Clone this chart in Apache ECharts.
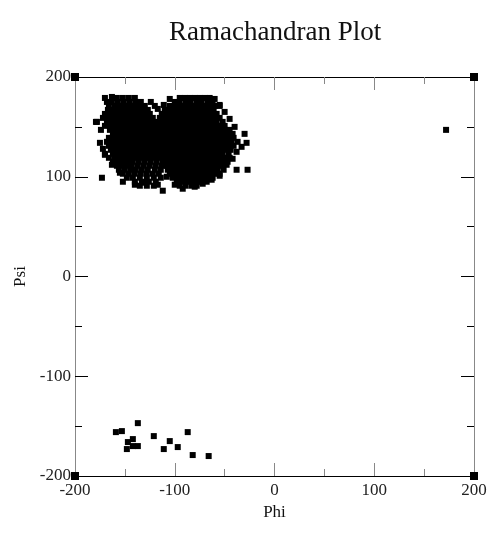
<!DOCTYPE html>
<html>
<head>
<meta charset="utf-8">
<script src="https://cdn.jsdelivr.net/npm/echarts@6/dist/echarts.min.js"></script>
<style>
html,body{margin:0;padding:0;background:#fff;}
#chart{width:503px;height:535px;}
</style>
</head>
<body>
<div id="chart"></div>
<script>
// ---- data ----
const titleText = 'Ramachandran Plot';
const xName = 'Phi';
const yName = 'Psi';
const axisTicks = [-200, -100, 0, 100, 200];

// dense beta-region cluster: one psi value per row, with the phi values read in that row
const clusterPsi = [179, 175, 171, 167, 163, 159, 155, 151, 147, 143, 139, 135, 131, 127, 123, 119, 115, 111, 107, 103, 99, 95, 91];
const clusterPhi = [
  [-170, -158, -152, -146, -140, -95, -90, -85, -80, -75, -70, -65],
  [-168, -163, -157, -151, -145, -139, -134, -100, -95, -89, -84, -78, -73, -67, -62],
  [-166, -160, -155, -150, -145, -140, -135, -130, -120, -105, -100, -95, -90, -85, -80, -75, -70, -65, -60, -55],
  [-167, -162, -157, -152, -147, -142, -137, -132, -127, -110, -106, -101, -96, -91, -86, -81, -76, -71, -66, -61],
  [-170, -165, -160, -155, -150, -145, -140, -135, -130, -125, -113, -108, -103, -98, -93, -88, -83, -78, -73, -68, -63, -58],
  [-172, -167, -162, -157, -152, -147, -142, -137, -132, -127, -122, -115, -110, -105, -100, -95, -90, -85, -80, -75, -70, -65, -60, -55],
  [-178, -168, -163, -158, -153, -148, -143, -138, -133, -128, -123, -118, -113, -108, -103, -98, -93, -88, -83, -78, -73, -68, -63, -58, -52],
  [-170, -165, -160, -155, -150, -145, -140, -135, -130, -125, -120, -115, -110, -105, -100, -95, -90, -85, -80, -75, -70, -65, -60, -55, -50],
  [-165, -160, -155, -150, -145, -140, -135, -130, -125, -120, -115, -110, -105, -100, -95, -90, -85, -80, -75, -70, -65, -60, -55, -50, -45],
  [-162, -157, -152, -147, -142, -137, -132, -127, -122, -117, -112, -107, -102, -97, -92, -87, -82, -77, -72, -67, -62, -57, -52, -47, -42, -30],
  [-166, -161, -156, -151, -146, -141, -136, -131, -126, -121, -116, -111, -106, -101, -96, -91, -86, -81, -76, -71, -66, -61, -56, -51, -46, -41],
  [-168, -163, -158, -153, -148, -143, -138, -133, -128, -123, -118, -113, -108, -103, -98, -93, -88, -83, -78, -73, -68, -63, -58, -53, -48, -43, -37],
  [-166, -161, -156, -151, -146, -141, -136, -131, -126, -121, -116, -111, -106, -101, -96, -91, -86, -81, -76, -71, -66, -61, -56, -51, -46, -41],
  [-164, -159, -154, -149, -144, -139, -134, -129, -124, -119, -114, -109, -104, -99, -94, -89, -84, -79, -74, -69, -64, -59, -54, -49, -44],
  [-170, -162, -157, -152, -147, -142, -137, -132, -127, -122, -117, -112, -107, -102, -97, -92, -87, -82, -77, -72, -67, -62, -57, -52, -46],
  [-166, -160, -155, -150, -145, -140, -135, -130, -125, -120, -115, -110, -105, -100, -95, -90, -85, -80, -75, -70, -65, -60, -55, -50, -45],
  [-162, -157, -152, -147, -142, -136, -130, -124, -118, -112, -107, -102, -97, -92, -87, -82, -77, -72, -67, -62, -57, -52, -47],
  [-158, -153, -148, -143, -137, -131, -125, -119, -113, -108, -103, -98, -93, -88, -83, -78, -73, -68, -63, -58, -53],
  [-156, -150, -144, -139, -133, -127, -120, -114, -107, -102, -97, -92, -87, -82, -77, -72, -67, -62, -57, -51, -38, -27],
  [-152, -146, -140, -134, -128, -122, -116, -105, -100, -95, -90, -85, -80, -75, -70, -65, -60, -55],
  [-173, -148, -142, -135, -128, -121, -114, -102, -97, -92, -87, -82, -77, -72, -67, -62],
  [-140, -133, -126, -119, -98, -93, -88, -83, -78, -73, -68],
  [-135, -128, -121, -95, -89, -83, -78]
];

// ragged points along the edge of the cluster
const edgePhi = [-179, -175, -174, -172, -170, -163, -155, -152, -140, -130, -112, -117, -108, -100, -92, -80, -72, -63, -55, -48, -42, -38, -33, -28, -40, -45, -50, -55, -60, -124, -117, -105, -111, -163];
const edgePsi = [155, 134, 147, 128, 122, 112, 104, 95, 92, 94, 86, 92, 100, 92, 88, 90, 93, 97, 101, 112, 118, 125, 130, 134, 150, 158, 165, 172, 178, 175, 168, 178, 172, 180];

// scattered points near psi = -160..-180
const lowerPhi = [-159, -153, -137, -142, -147, -148, -142, -137, -121, -105, -111, -97, -87, -82, -66];
const lowerPsi = [-156, -155, -147, -163, -166, -173, -170, -170, -160, -165, -173, -171, -156, -179, -180];

// lone point at the right
const outlierPhi = [172];
const outlierPsi = [147];

// corner markers
const cornerPhi = [-200, 200, -200, 200];
const cornerPsi = [200, 200, -200, -200];

// ---- build ----
const mainData = [];
clusterPsi.forEach((psi, i) => clusterPhi[i].forEach(phi => mainData.push([phi, psi])));
edgePhi.forEach((phi, i) => mainData.push([phi, edgePsi[i]]));
lowerPhi.forEach((phi, i) => mainData.push([phi, lowerPsi[i]]));
outlierPhi.forEach((phi, i) => mainData.push([phi, outlierPsi[i]]));
const cornerData = cornerPhi.map((phi, i) => [phi, cornerPsi[i]]);

const serif = '"Liberation Serif", "Times New Roman", serif';
const tickMin = axisTicks[0], tickMax = axisTicks[axisTicks.length - 1];
const tickStep = axisTicks[1] - axisTicks[0];

function axisBase(extra) {
  return Object.assign({
    type: 'value',
    min: tickMin, max: tickMax, interval: tickStep,
    splitLine: { show: false }
  }, extra);
}

const chart = echarts.init(document.getElementById('chart'), null, { renderer: 'canvas' });
chart.setOption({
  backgroundColor: '#fff',
  animation: false,
  title: {
    text: titleText, left: 164, top: 14,
    textStyle: { fontFamily: serif, fontSize: 27, fontWeight: 'normal', color: '#111' }
  },
  grid: { left: 75, right: 29, top: 77, bottom: 59 },
  xAxis: [
    axisBase({
      position: 'bottom',
      name: xName, nameLocation: 'middle', nameGap: 24,
      nameTextStyle: { fontFamily: serif, fontSize: 17, color: '#111' },
      axisLine: { onZero: false, lineStyle: { color: '#000', width: 1 } },
      axisTick: { show: true, inside: true, length: 13, lineStyle: { color: '#888' } },
      minorTick: { show: true, splitNumber: 2, length: 7, lineStyle: { color: '#888' } },
      axisLabel: { margin: 6, fontFamily: serif, fontSize: 17, color: '#222' }
    }),
    axisBase({
      position: 'top',
      axisLine: { onZero: false, lineStyle: { color: '#000', width: 1 } },
      axisTick: { show: true, inside: true, length: 13, lineStyle: { color: '#888' } },
      minorTick: { show: true, splitNumber: 2, length: 7, lineStyle: { color: '#888' } },
      axisLabel: { show: false }
    })
  ],
  yAxis: [
    axisBase({
      position: 'left',
      name: yName, nameLocation: 'middle', nameGap: 38,
      nameTextStyle: { fontFamily: serif, fontSize: 17, color: '#111' },
      axisLine: { onZero: false, lineStyle: { color: '#888', width: 1 } },
      axisTick: { show: true, inside: true, length: 13, lineStyle: { color: '#000' } },
      minorTick: { show: true, splitNumber: 2, length: 7, lineStyle: { color: '#000' } },
      axisLabel: { margin: 4, fontFamily: serif, fontSize: 17, color: '#222' }
    }),
    axisBase({
      position: 'right',
      axisLine: { onZero: false, lineStyle: { color: '#888', width: 1 } },
      axisTick: { show: true, inside: true, length: 13, lineStyle: { color: '#000' } },
      minorTick: { show: true, splitNumber: 2, length: 7, lineStyle: { color: '#000' } },
      axisLabel: { show: false }
    })
  ],
  series: [
    {
      type: 'scatter', xAxisIndex: 0, yAxisIndex: 0,
      symbol: 'rect', symbolSize: 6,
      itemStyle: { color: '#000', opacity: 1 },
      data: mainData, clip: false, silent: true
    },
    {
      type: 'scatter', xAxisIndex: 0, yAxisIndex: 0,
      symbol: 'rect', symbolSize: 8,
      itemStyle: { color: '#000', opacity: 1 },
      data: cornerData, clip: false, silent: true, z: 5
    }
  ]
});
</script>
</body>
</html>
